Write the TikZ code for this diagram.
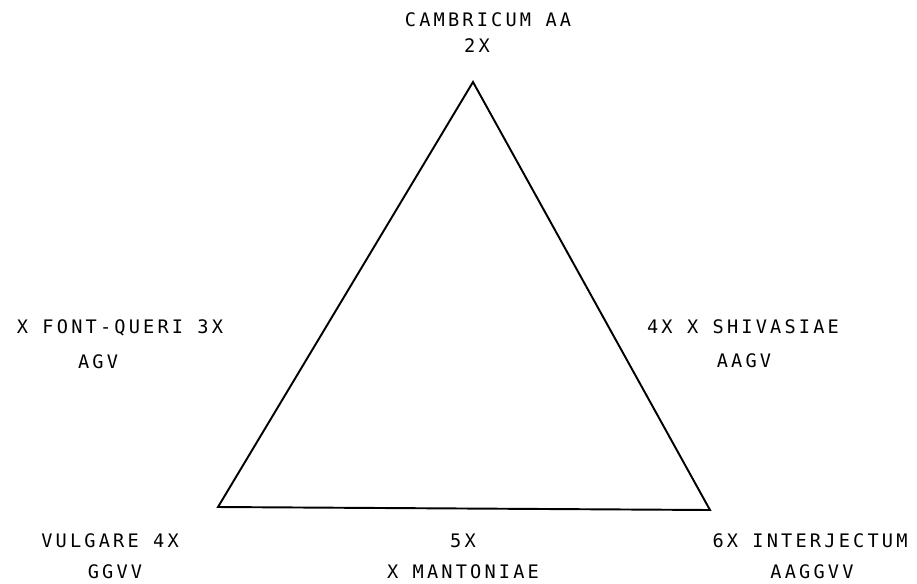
\documentclass[tikz,border=0pt]{standalone}
\usepackage{fontspec}
\newfontfamily\labfont[LetterSpace=17]{DejaVu Sans Mono}
\begin{document}
\begin{tikzpicture}[x=0.02cm, y=-0.02cm, lab/.style={font=\labfont\fontsize{10.6}{12}\selectfont, inner sep=0pt}]
\useasboundingbox (0,0) rectangle (917,583);
% corners of the triangle
\coordinate (cam) at (473,82);
\coordinate (vul) at (218,507);
\coordinate (int) at (710,510);
\draw[line width=1.1pt, line join=miter] (cam) -- (vul) -- (int) -- cycle;
% labels
\foreach \n / \x / \y / \t in {camA/488/20/CAMBRICUM AA, camB/477/46/2X,
	fqA/120/328/X FONT-QUERI 3X, fqB/98/362/AGV,
	shA/743/327/4X X SHIVASIAE, shB/744/361/AAGV,
	vulA/110/541/VULGARE 4X, vulB/115/572/GGVV,
	manA/463/541/5X, manB/463/572/X MANTONIAE,
	intA/810/541/6X INTERJECTUM, intB/812/572/AAGGVV}
	\node[lab] (\n) at (\x,\y) {\t};
\end{tikzpicture}
\end{document}
